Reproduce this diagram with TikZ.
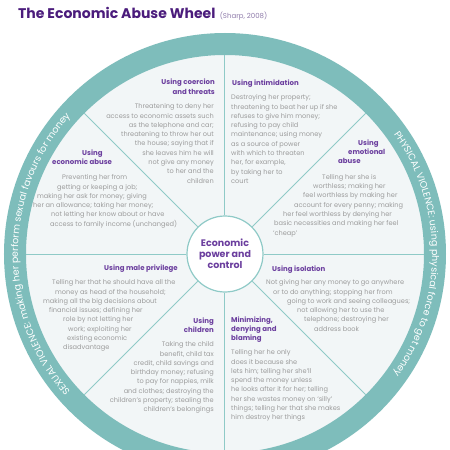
\documentclass[tikz,border=0pt]{standalone}
\usepackage{fontspec}
\setmainfont{Poppins}
\usetikzlibrary{positioning,decorations.text}
\definecolor{wheelteal}{HTML}{7EBDBB}
\definecolor{spoketeal}{HTML}{8FCAC7}
\definecolor{wheelpale}{HTML}{F2F6F7}
\definecolor{wheelpurple}{HTML}{6B3E9E}
\definecolor{titlepurple}{HTML}{4B1C7C}
\definecolor{srcpurple}{HTML}{8F7BAA}
\definecolor{bodygrey}{HTML}{9C9C9C}
\newcommand{\ringfont}{\fontsize{9.5}{10}\selectfont}
\tikzset{
    spoke/.style={draw=spoketeal,line width=1pt},
    hub/.style={circle,draw=spoketeal,line width=1.2pt,fill=white,minimum size=76pt,inner sep=0pt,align=center,font=\bfseries\fontsize{9.5}{11}\selectfont,text=wheelpurple},
    head/.style={inner sep=0pt,font=\bfseries\fontsize{7}{9.3}\selectfont,text=wheelpurple},
    body/.style={inner sep=0pt,font=\fontsize{6.6}{9.3}\selectfont,text=bodygrey},
    ringtext/.style={decorate,decoration={text along path,text align=center,text color=white,text={#1}}},
}
\begin{document}
\begin{tikzpicture}[x=1pt,y=1pt]
    \useasboundingbox (-225,-196) rectangle (225,254);
    \clip (-225,-196) rectangle (225,254);
    \fill[white] (-225,-196) rectangle (225,254);
    \fill[wheelpale] (0,0) circle (199);
    \fill[wheelteal,even odd rule] (0,0) circle (221) (0,0) circle (199);

    \node[hub] (hub) at (0,0) {Economic\\power and\\control};
    \foreach \a in {0,45,...,315} {
        \coordinate (rim\a) at (\a:199);
        \draw[spoke] (hub.\a) -- (rim\a);
    }

    \path[ringtext={|\ringfont|PHYSICAL VIOLENCE: using physical force to get money}] (40:207) arc (40:-40:207);
    \path[ringtext={|\ringfont|SEXUAL VIOLENCE: making her perform sexual favours for money}] (226:207) arc (226:134:207);

    \node[anchor=base west,inner sep=0pt,font=\bfseries\fontsize{14}{16}\selectfont,text=titlepurple] (title) at (-207,235) {The Economic Abuse Wheel};
    \node[anchor=base west,inner sep=0pt,font=\fontsize{7}{8}\selectfont,text=srcpurple] (src) at ([xshift=4pt]title.base east) {(Sharp, 2008)};

    \node[head,anchor=north east,align=right] (coerH) at (-10,175) {Using coercion\\and threats};
    \node[body,anchor=north east,align=right] (coerB) at (-11,150.5) {Threatening to deny her\\access to economic assets such\\as the telephone and car;\\threatening to throw her out\\the house; saying that if\\she leaves him he will\\not give any money\\to her and the\\children};

    \node[head,anchor=north west] (intiH) at (7,174.5) {Using intimidation};
    \node[body,anchor=north west,align=left] (intiB) at (6,159.5) {Destroying her property;\\threatening to beat her up if she\\refuses to give him money;\\refusing to pay child\\maintenance; using money\\as a source of power\\with which to threaten\\her, for example,\\by taking her to\\court};

    \node[head,anchor=north west,align=left] (emotH) at (113,114.5) {\hspace*{20pt}Using\\\hspace*{10pt}emotional\\abuse};
    \node[body,anchor=north west,align=left] (emotB) at (48,80) {\hspace*{49pt}Telling her she is\\\hspace*{40pt}worthless; making her\\\hspace*{30pt}feel worthless by making her\\\hspace*{21pt}account for every penny; making\\\hspace*{10pt}her feel worthless by denying her\\\hspace*{1pt}basic necessities and making her feel\\`cheap'};

    \node[head,anchor=north west,align=left] (econH) at (-173,104.5) {\hspace*{30pt}Using\\economic abuse};
    \node[body,anchor=north west,align=left] (econB) at (-192,79.5) {\hspace*{29pt}Preventing her from\\\hspace*{24pt}getting or keeping a job;\\\hspace*{4pt}making her ask for money; giving\\her an allowance; taking her money;\\\hspace*{18pt}not letting her know about or have\\\hspace*{17pt}access to family income (unchanged)};

    \node[head,anchor=north east] (maleH) at (-47,-10.5) {Using male privilege};
    \node[body,anchor=north west,align=left] (maleB) at (-182,-25.5) {\hspace*{9pt}Telling her that he should have all the\\\hspace*{12pt}money as head of the household;\\making all the big decisions about\\\hspace*{6pt}financial issues; defining her\\\hspace*{20pt}role by not letting her\\\hspace*{25pt}work; exploiting her\\\hspace*{24pt}existing economic\\\hspace*{20pt}disadvantage};

    \node[head,anchor=north west] (isolH) at (47,-11.5) {Using isolation};
    \node[body,anchor=north west,align=left] (isolB) at (41,-25.5) {Not giving her any money to go anywhere\\\hspace*{7pt}or to do anything; stopping her from\\\hspace*{21pt}going to work and seeing colleagues;\\\hspace*{31pt}not allowing her to use the\\\hspace*{38pt}telephone; destroying her\\\hspace*{48pt}address book};

    \node[head,anchor=north west,align=left] (minH) at (6,-62.5) {Minimizing,\\denying and\\blaming};
    \node[body,anchor=north west,align=left] (minB) at (6,-95.5) {Telling her he only\\does it because she\\lets him; telling her she'll\\spend the money unless\\he looks after it for her; telling\\her she wastes money on `silly'\\things; telling her that she makes\\him destroy her things};

    \node[head,anchor=north east,align=right] (chldH) at (-11,-63.5) {Using\\children};
    \node[body,anchor=north east,align=right] (chldB) at (-11,-87.5) {Taking the child\\benefit, child tax\\credit, child savings and\\birthday money; refusing\\to pay for nappies, milk\\and clothes; destroying the\\children's property; stealing the\\children's belongings};
\end{tikzpicture}
\end{document}
